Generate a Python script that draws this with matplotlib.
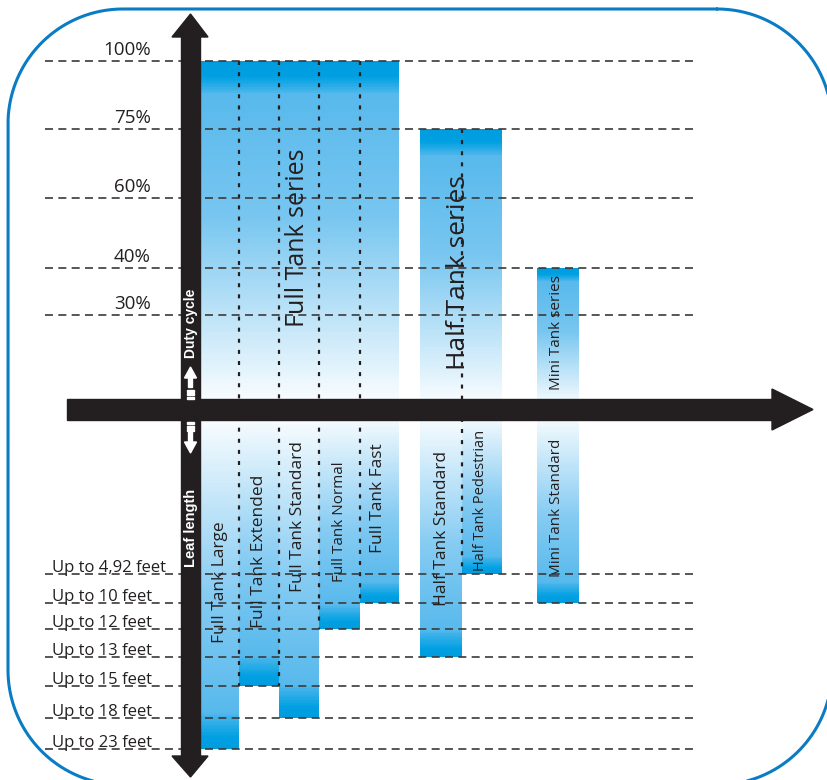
import matplotlib
matplotlib.use('Agg')
import matplotlib.pyplot as plt
from matplotlib.colors import LinearSegmentedColormap
from matplotlib.patches import Polygon, Rectangle
import numpy as np

plt.rcParams['font.family'] = ['Open Sans', 'DejaVu Sans']

# ---- data ----
products = ['Full Tank Large', 'Full Tank Extended', 'Full Tank Standard',
            'Full Tank Normal', 'Full Tank Fast',
            'Half Tank Standard', 'Half Tank Pedestrian', 'Mini Tank Standard']
series_names = ['Full Tank series', 'Half Tank series', 'Mini Tank series']
product_series = [0, 0, 0, 0, 0, 1, 1, 2]
duty_cycle = [100, 100, 100, 100, 100, 75, 75, 40]      # %
leaf_length = [23, 15, 18, 12, 10, 13, 4.92, 10]         # feet

duty_levels = [100, 75, 60, 40, 30]
duty_labels = ['100%', '75%', '60%', '40%', '30%']
leaf_levels = [4.92, 10, 12, 13, 15, 18, 23]
leaf_labels = ['Up to 4,92 feet', 'Up to 10 feet', 'Up to 12 feet', 'Up to 13 feet',
               'Up to 15 feet', 'Up to 18 feet', 'Up to 23 feet']

# ---- layout (pixel space) ----
W, H = 828, 780
duty_y = [61, 129, 198, 268, 315]
leaf_y = [574, 603, 629, 657, 686, 718, 749]
col_x = [200, 239.5, 279, 319, 360, 420, 462, 537]
col_w = [39.5, 39.5, 40, 41, 39, 42, 40, 42]
axis_mid = 409
ink = '#231f20'
label_pos = [(220, 582, 12.5), (259, 551, 12.5), (298, 517, 12.5), (340, 522, 11),
             (378, 498, 12.5), (442, 528, 12.5), (481, 500, 10.5), (557, 508, 11)]
series_pos = [(298, 238, 18), (459, 273, 19), (557, 333, 11)]

top_cmap = LinearSegmentedColormap.from_list('top', [
    (0, '#009CDE'), (0.045, '#00A0E2'), (0.095, '#58B9EC'), (0.45, '#78C6F0'), (1, '#FFFFFF')])
bot_cmap = LinearSegmentedColormap.from_list('bot', [
    (0, '#FFFFFF'), (0.55, '#85CBF2'), (0.89, '#58B9EC'), (0.965, '#00A0E2'), (1, '#009CDE')])

fig = plt.figure(figsize=(W / 100, H / 100), dpi=100)
ax = fig.add_axes([0, 0, 1, 1])
n = 240
t = (np.arange(n) + 0.5) / n


def duty_to_y(v):
    return duty_y[duty_levels.index(v)]


def leaf_to_y(v):
    return leaf_y[leaf_levels.index(v)]


def grad_bar(x0, x1, y0, y1, cmap):
    # y0 -> colour at t=0, y1 -> colour at t=1
    ys = np.linspace(y0, y1, n + 1)
    ax.pcolormesh([x0, x1], ys, t.reshape(-1, 1), cmap=cmap, vmin=0, vmax=1,
                  shading='flat', edgecolors='none', antialiased=False,
                  rasterized=True, zorder=1)


# gradient bars
for i, p in enumerate(products):
    x0, x1 = col_x[i], col_x[i] + col_w[i]
    grad_bar(x0, x1, duty_to_y(duty_cycle[i]), axis_mid, top_cmap)
    grad_bar(x0, x1, axis_mid, leaf_to_y(leaf_length[i]), bot_cmap)

# dotted dividers between products of the same series
for i in range(len(products) - 1):
    if product_series[i] != product_series[i + 1]:
        continue
    x = col_x[i] + col_w[i]
    y0 = min(duty_to_y(duty_cycle[i]), duty_to_y(duty_cycle[i + 1]))
    y1 = min(leaf_to_y(leaf_length[i]), leaf_to_y(leaf_length[i + 1]))
    ax.plot([x, x], [y0, y1], color=ink, lw=1.6, dashes=(1.8, 3.2), zorder=2)

# dashed reference lines + labels
for lab, y in zip(duty_labels, duty_y):
    ax.plot([45, 697], [y, y], color='#3a3a3a', lw=1.2, dashes=(4.8, 3.2), zorder=2)
    ax.text(151, y - 6, lab, ha='right', va='baseline', fontsize=13.5, color=ink)
for lab, y in zip(leaf_labels, leaf_y):
    ax.plot([45, 697], [y, y], color='#3a3a3a', lw=1.2, dashes=(4.8, 3.2), zorder=2)
    ax.text(52, y - 2, lab, ha='left', va='baseline', fontsize=12, color=ink)

# product and series labels
for p, (x, y, fs) in zip(products, label_pos):
    ax.text(x, y, p, rotation=90, ha='center', va='center', fontsize=fs, color=ink, zorder=3)
for s, (x, y, fs) in zip(series_names, series_pos):
    ax.text(x, y, s, rotation=90, ha='center', va='center', fontsize=fs, color=ink, zorder=3)

# axes arrows
ax.add_patch(Rectangle((181, 36), 19, 721, color=ink, zorder=4))
ax.add_patch(Polygon([(172, 37), (208, 37), (190.5, 14)], color=ink, zorder=4))
ax.add_patch(Polygon([(172, 756), (208, 756), (190.5, 777)], color=ink, zorder=4))
ax.add_patch(Rectangle((67, 399), 706, 21, color=ink, zorder=4))
ax.add_patch(Polygon([(772, 389), (813, 409.5), (772, 430)], color=ink, zorder=4))

# small white direction arrows on the vertical axis
ax.add_patch(Polygon([(184.5, 378), (196.5, 378), (190.5, 367)], color='white', zorder=5))
ax.add_patch(Rectangle((188.5, 377), 4, 10, color='white', zorder=5))
ax.add_patch(Polygon([(184.5, 442), (196.5, 442), (190.5, 453)], color='white', zorder=5))
ax.add_patch(Rectangle((188.5, 432), 4, 11, color='white', zorder=5))
for yy in [389.5, 393, 396.5, 422, 425.5, 429]:
    ax.add_patch(Rectangle((187, yy), 7, 2, color='white', zorder=5))

ax.text(191, 323, 'Duty cycle', rotation=90, ha='center', va='center', fontsize=10,
        color='white', fontweight='bold', family=['Liberation Sans', 'DejaVu Sans'], zorder=6)
ax.text(191, 528, 'Leaf length', rotation=90, ha='center', va='center', fontsize=10.5,
        color='white', fontweight='bold', family=['Liberation Sans', 'DejaVu Sans'], zorder=6)

# rounded frame (drawn as a path of arcs)
fx0, fy0, fx1, fy1, r = 8, 9, 832, 785, 115
pts = []
for cx, cy, a0 in [(fx1 - r, fy0 + r, -90), (fx1 - r, fy1 - r, 0),
                   (fx0 + r, fy1 - r, 90), (fx0 + r, fy0 + r, 180)]:
    a = np.radians(np.linspace(a0, a0 + 90, 40))
    pts.append(np.column_stack([cx + r * np.cos(a), cy + r * np.sin(a)]))
pts = np.vstack(pts + [pts[0][:1]])
ax.plot(pts[:, 0], pts[:, 1], color='#0a7cc4', lw=2.2, zorder=7, solid_capstyle='round')

ax.set_xlim(0, W)
ax.set_ylim(H, 0)
ax.axis('off')
fig.savefig('out.png', dpi=100)
